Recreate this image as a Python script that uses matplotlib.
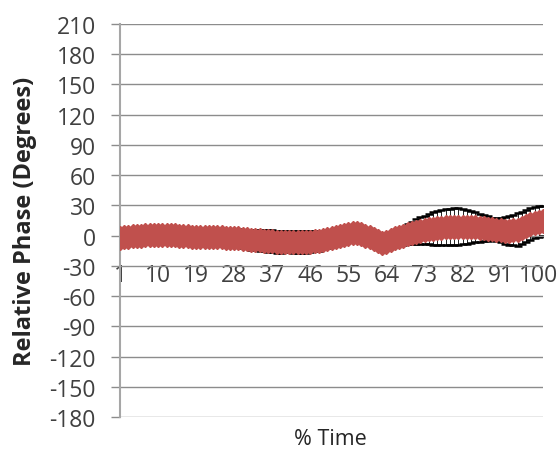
import numpy as np
import matplotlib
matplotlib.use("Agg")
import matplotlib.pyplot as plt

# % time points (1..101), tick labels every 9th point
pct_time = list(range(1, 102))

# mean relative phase (degrees)
phase_mean = [
    -2, -1.5, -1, -0.8, -0.5, -0.2, 0.2, 0.5, 0.8, 1,
    1, 0.7, 0.5, 0.3, 0, -0.3, -0.7, -1, -1, -1,
    -1.2, -1.3, -1.5, -1.6, -1.8, -2, -2.2, -2.4, -2.5, -3,
    -3.5, -4, -4.4, -4.7, -5, -5.3, -5.6, -6, -6, -6,
    -6, -6.2, -6.4, -6.5, -6.3, -6, -5.5, -5, -4, -3,
    -2, -1, -0.2, 0.5, 1.5, 2.5, 3, 1.5, 0, -1.5,
    -3.5, -5, -7, -6, -4, -2, -1, 0, 1.5, 3,
    4, 5, 5.8, 6.3, 7, 7.5, 8, 8.5, 8.8, 9,
    9, 9, 8.8, 8.5, 8.2, 7.8, 7.5, 7, 6.5, 6,
    5.5, 5, 5, 5.3, 6, 7.5, 9.5, 11.5, 13, 14,
    14.5,
]

# standard deviation (degrees)
phase_sd = [
    7, 7, 6, 6, 7, 7, 8, 8, 7, 7,
    7, 6, 6, 7, 7, 8, 8, 7, 7, 7,
    8, 8, 8, 7, 7, 8, 8, 9, 9, 9,
    9, 10, 10, 10.5, 10.5, 11, 11, 11, 11, 10.5,
    10.5, 11, 11, 11, 11, 10.5, 10, 10, 9, 9,
    8, 8, 8, 7, 7, 8, 8, 7, 7, 8,
    8, 7, 7, 8, 8, 8, 9, 9, 10, 11,
    12, 13, 14, 15, 16, 17, 17.5, 18, 18, 18,
    18, 17.5, 17, 16, 15, 14, 13, 12, 11, 11,
    12, 13, 14, 15, 16, 16, 16, 16, 15, 15,
    15,
]

y_ticks = list(range(-180, 211, 30))
x_ticks = list(range(1, 102, 9))

plt.rcParams['font.family'] = ['Open Sans', 'DejaVu Sans']
plt.rcParams['axes.unicode_minus'] = False

fig = plt.figure(figsize=(5.6, 4.56), dpi=100)
ax = fig.add_axes([120 / 560, 1 - 418 / 456, 423 / 560, 393 / 456])

red = '#C0504D'
ax.errorbar(pct_time, phase_mean, yerr=phase_sd, fmt='none', ecolor='black',
            elinewidth=0.6, capsize=3, capthick=1.8, zorder=2)
ax.plot(pct_time, phase_mean, color=red, lw=2, marker='D', markersize=12,
        markerfacecolor=red, markeredgecolor=red, markeredgewidth=1, zorder=3)

ax.set_xlim(1, 101)
ax.set_ylim(-180, 210)
ax.set_yticks(y_ticks)
ax.set_xticks(x_ticks)
ax.set_xticklabels([str(t) for t in x_ticks])

ax.yaxis.grid(True, color='#8c8c8c', lw=1.0, zorder=0)
ax.set_axisbelow(True)

for s in ['top', 'right']:
    ax.spines[s].set_visible(False)
ax.spines['left'].set_color('#a6a6a6')
ax.spines['left'].set_linewidth(1.5)
ax.spines['bottom'].set_position(('data', 0))
ax.spines['bottom'].set_color('#8c8c8c')

ax.tick_params(axis='y', length=6.5, width=1.0, color='#8c8c8c', pad=11,
               labelsize=16.5, labelcolor='#404040')
ax.tick_params(axis='x', length=0, pad=20, labelsize=16.5, labelcolor='#404040')

ax.set_ylabel('Relative Phase (Degrees)', fontsize=17, fontweight='bold',
              color='#262626')
ax.yaxis.set_label_coords(-0.196, 0.50)
fig.text(330 / 560, 1 - 440 / 456, '% Time', fontsize=15.5, color='#262626',
         ha='center', va='center')

fig.savefig('out.png', dpi=100)
